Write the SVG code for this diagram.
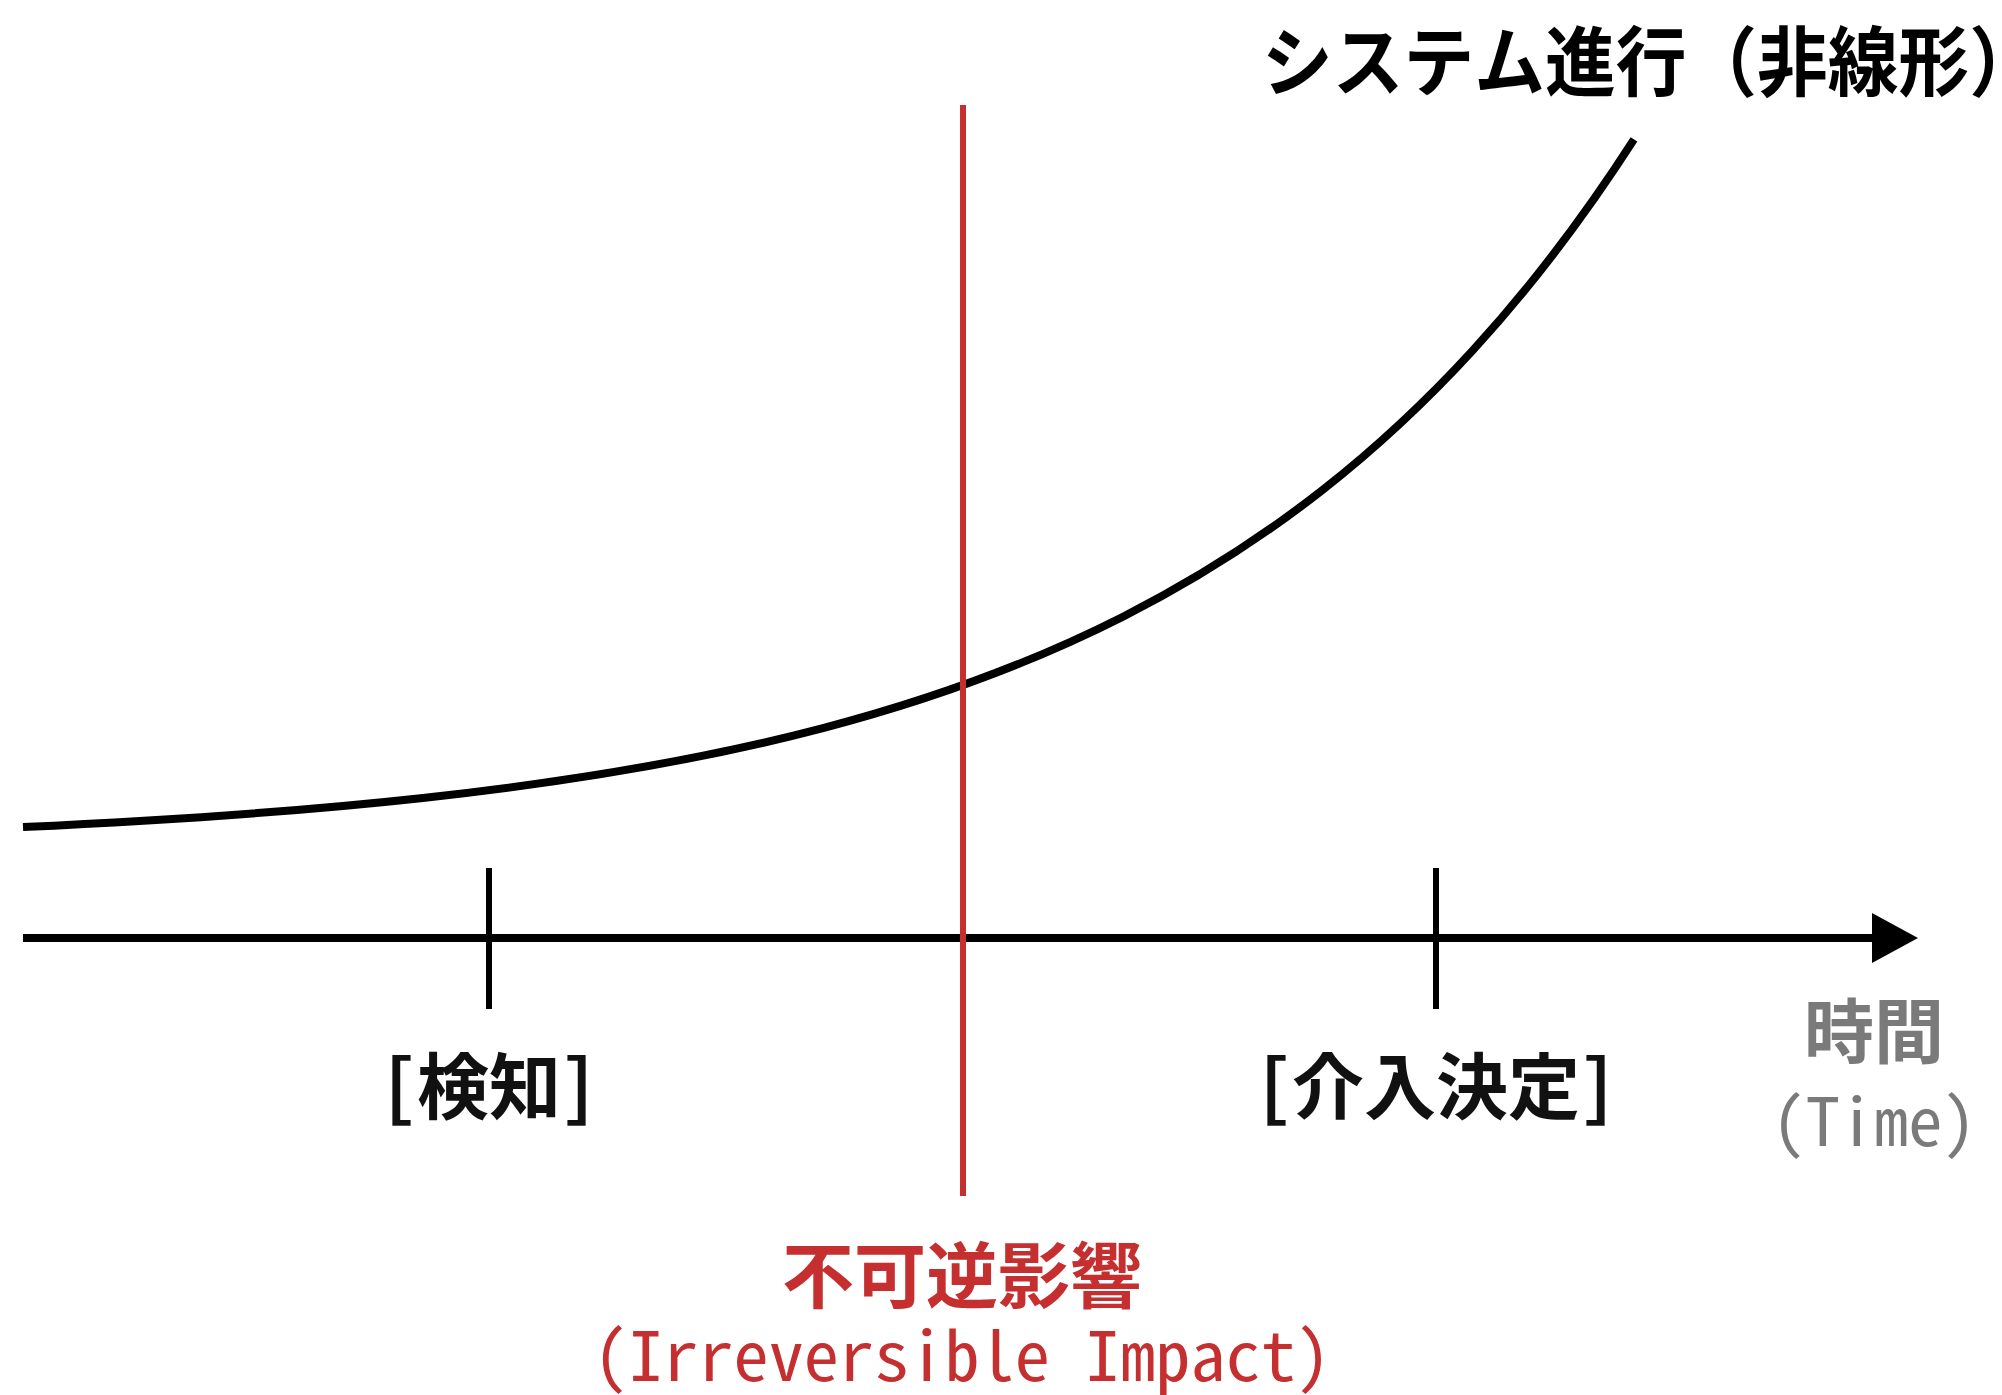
<svg xmlns="http://www.w3.org/2000/svg" width="2002" height="1395" viewBox="0 0 2002 1395">
<style>
.jp{font-family:"Noto Sans Mono CJK JP","Noto Sans CJK JP","DejaVu Sans Mono",monospace;font-weight:bold}
.mono{font-family:"Noto Sans Mono CJK JP","DejaVu Sans Mono",monospace}
.lbl{font-size:72px;fill:#111;text-anchor:middle}
.gray{fill:#7a7a7a}
.red{fill:#c62f2f}
</style>
<defs>
<marker id="arr" markerUnits="userSpaceOnUse" markerWidth="46" markerHeight="50" refX="6" refY="25" orient="auto">
<path d="M0,0 L46,25 L0,50 Z" fill="#000"/>
</marker>
</defs>
<rect width="2002" height="1395" fill="#fff"/>
<g id="connectors">
<path id="curve" d="M23,827 C156.3,820.95 289.7,812.45 423,797.9 C556.3,783.35 689.7,763.09 823,728.1 C923,701.86 1023,667.36 1123,616.7 C1189.7,582.93 1256.3,541.95 1323,489.6 C1373,450.33 1423,404.67 1473,350.1 C1526.7,291.53 1580.3,222.77 1634,139.4" fill="none" stroke="#000" stroke-width="8"/>
<line id="time-axis" x1="23" y1="938" x2="1878" y2="938" stroke="#000" stroke-width="8" marker-end="url(#arr)"/>
<line id="tick-detect" x1="489" y1="868" x2="489" y2="1009" stroke="#000" stroke-width="6"/>
<line id="tick-decide" x1="1436" y1="868" x2="1436" y2="1009" stroke="#000" stroke-width="6"/>
<line id="irreversible-line" x1="963" y1="105" x2="963" y2="1196" stroke="#c62f2f" stroke-width="6"/>
</g>
<g id="title">
<text class="jp" x="1262" y="90" font-size="76" fill="#000" textLength="778" lengthAdjust="spacingAndGlyphs">システム進行（非線形）</text>
</g>
<g id="detect">
<text class="jp lbl" x="489" y="1113">[検知]</text>
</g>
<g id="decide">
<text class="jp lbl" x="1436" y="1113">[介入決定]</text>
</g>
<g id="time">
<text class="jp gray" x="1874" y="1058" font-size="70" text-anchor="middle">時間</text>
<text class="mono gray" x="1874" y="1146" font-size="66" text-anchor="middle" textLength="205" lengthAdjust="spacingAndGlyphs">(Time)</text>
</g>
<g id="impact">
<text class="jp red" x="962" y="1302" font-size="72" text-anchor="middle">不可逆影響</text>
<text class="mono red" x="962" y="1381" font-size="68" text-anchor="middle" textLength="738" lengthAdjust="spacingAndGlyphs">(Irreversible Impact)</text>
</g>
</svg>
